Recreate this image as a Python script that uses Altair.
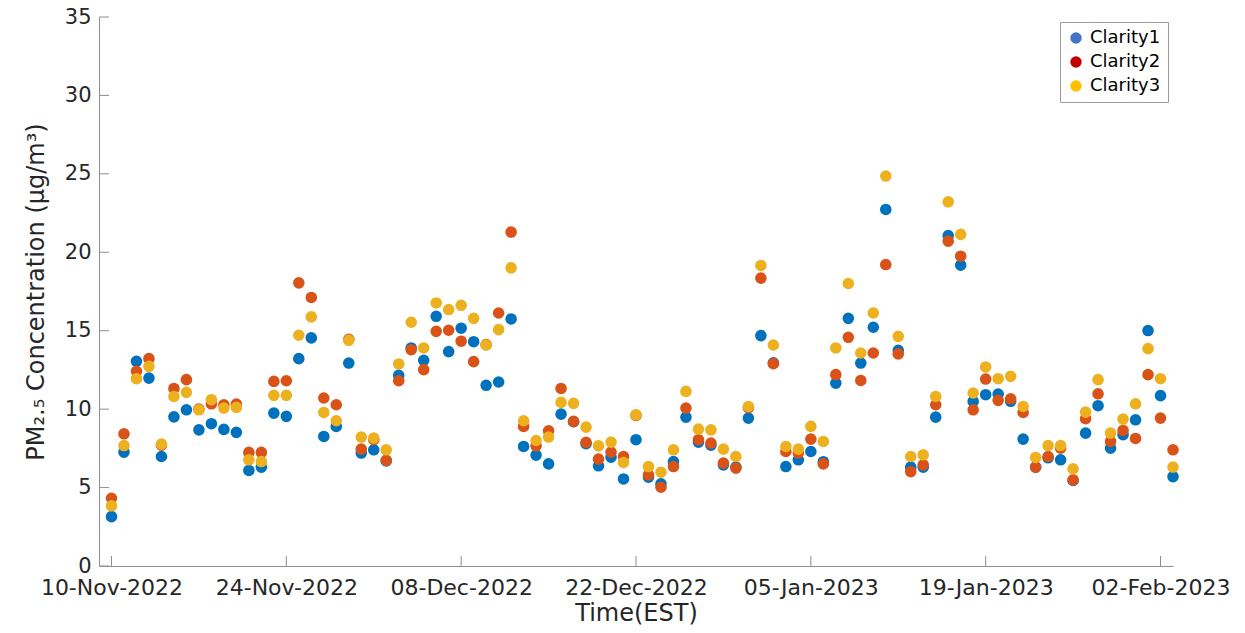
import altair as alt
import pandas as pd

# ---------------- data ----------------
start_date = "2022-11-10"
series_names = ["Clarity1", "Clarity2", "Clarity3"]

clarity1 = [3.15, 7.26, 13.05, 11.98, 6.98, 9.51, 9.96, 8.68, 9.07, 8.71,
            8.52, 6.09, 6.30, 9.75, 9.54, 13.22, 14.54, 8.26, 8.90, 12.94,
            7.20, 7.41, 6.70, 12.15, 13.90, 13.11, 15.92, 13.67, 15.16, 14.30,
            11.52, 11.73, 15.75, 7.62, 7.07, 6.51, 9.68, 9.20, 7.80, 6.39,
            6.94, 5.55, 8.05, 5.66, 5.24, 6.66, 9.49, 7.90, 7.70, 6.45,
            6.30, 9.43, 14.69, 12.95, 6.34, 6.77, 7.30, 6.65, 11.66, 15.79,
            12.94, 15.22, 22.73, 13.75, 6.30, 6.30, 9.49, 21.07, 19.18, 10.49,
            10.92, 10.96, 10.50, 8.09, 6.30, 6.90, 6.77, 5.45, 8.47, 10.22,
            7.51, 8.37, 9.32, 15.01, 10.86, 5.70]

clarity2 = [4.32, 8.43, 12.41, 13.22, 7.70, 11.32, 11.88, 10.00, 10.34, 10.28,
            10.32, 7.24, 7.24, 11.77, 11.81, 18.05, 17.12, 10.71, 10.28, 14.45,
            7.45, 8.05, 6.73, 11.81, 13.79, 12.52, 14.96, 15.03, 14.33, 13.03,
            14.11, 16.13, 21.29, 8.90, 7.66, 8.62, 11.32, 9.22, 7.88, 6.81,
            7.26, 6.98, 9.60, 5.81, 5.02, 6.34, 10.07, 8.05, 7.83, 6.56,
            6.24, 10.10, 18.35, 12.90, 7.30, 7.20, 8.09, 6.51, 12.20, 14.58,
            11.83, 13.58, 19.22, 13.52, 6.02, 6.45, 10.28, 20.71, 19.75, 9.96,
            11.92, 10.56, 10.66, 9.79, 6.30, 6.98, 7.51, 5.49, 9.39, 10.98,
            7.94, 8.64, 8.13, 12.20, 9.43, 7.41]

clarity3 = [3.83, 7.68, 11.94, 12.73, 7.77, 10.81, 11.07, 9.96, 10.60, 10.07,
            10.11, 6.77, 6.66, 10.88, 10.88, 14.71, 15.88, 9.79, 9.26, 14.39,
            8.22, 8.15, 7.41, 12.88, 15.54, 13.90, 16.77, 16.35, 16.62, 15.79,
            14.09, 15.07, 19.01, 9.26, 8.00, 8.22, 10.43, 10.37, 8.85, 7.66,
            7.90, 6.60, 9.64, 6.34, 5.98, 7.41, 11.13, 8.73, 8.68, 7.45,
            6.98, 10.17, 19.16, 14.09, 7.62, 7.45, 8.90, 7.94, 13.90, 18.01,
            13.58, 16.13, 24.86, 14.64, 6.98, 7.09, 10.81, 23.22, 21.14, 11.03,
            12.69, 11.94, 12.09, 10.17, 6.92, 7.68, 7.68, 6.19, 9.81, 11.88,
            8.47, 9.37, 10.34, 13.86, 11.94, 6.30]

point_colors = ["#0072BD", "#D95319", "#EDB120"]
legend_colors = ["#4472C4", "#C00000", "#FFC000"]

x_tick_dates = ["2022-11-10", "2022-11-24", "2022-12-08", "2022-12-22",
                "2023-01-05", "2023-01-19", "2023-02-02"]
x_domain = ["2022-11-09", "2023-02-03"]
y_ticks = [0, 5, 10, 15, 20, 25, 30, 35]
y_domain = [0, 35]

# ---------------- build table ----------------
dates = pd.date_range(start_date, periods=len(clarity1), freq="D").strftime("%Y-%m-%d")
rows = []
for name, vals in zip(series_names, [clarity1, clarity2, clarity3]):
    for d, v in zip(dates, vals):
        rows.append({"date": d, "pm": v, "series": name})
df = pd.DataFrame(rows)


def ms(s):
    return int(pd.Timestamp(s, tz="UTC").timestamp() * 1000)


W, H = 1074, 549
AXIS_COLOR = "#8f8f8f"
TEXT_COLOR = "#262626"
FONT = "DejaVu Sans"

x_enc = alt.X(
    "date:T",
    scale=alt.Scale(type="utc", domain=[ms(x_domain[0]), ms(x_domain[1])]),
    axis=alt.Axis(
        values=[ms(t) for t in x_tick_dates],
        format="%d-%b-%Y",
        title="Time(EST)",
        labelPadding=11,
        labelFontSize=22,
        titlePadding=3,
    ),
)
y_enc = alt.Y(
    "pm:Q",
    scale=alt.Scale(domain=y_domain, nice=False, zero=True),
    axis=alt.Axis(
        values=y_ticks,
        title="PM₂.₅ Concentration (µg/m³)",
        labelPadding=8,
        labelFontSize=21,
        titlePadding=16,
    ),
)

legend_layer = alt.Chart(df).mark_circle(size=135, opacity=0).encode(
    x=x_enc,
    y=y_enc,
    fill=alt.Fill(
        "series:N",
        scale=alt.Scale(domain=series_names, range=legend_colors),
        legend=alt.Legend(
            title=None,
            orient="top-right",
            offset=5,
            symbolType="circle",
            symbolSize=130,
            symbolOpacity=1,
            symbolStrokeWidth=0,
            labelFont=FONT,
            labelFontSize=18,
            labelColor="#000000",
            labelOffset=5,
            rowPadding=6,
            padding=7,
            strokeColor="#9a9a9a",
            fillColor="#ffffff",
            cornerRadius=0,
        ),
    ),
)

points = alt.Chart(df).mark_circle(size=135, opacity=1).encode(
    x=x_enc,
    y=y_enc,
    color=alt.Color(
        "series:N",
        scale=alt.Scale(domain=series_names, range=point_colors),
        legend=None,
    ),
)

xt_df = pd.DataFrame({"date": x_tick_dates})
xticks = alt.Chart(xt_df).mark_rule(color=AXIS_COLOR, strokeWidth=1).encode(
    x=x_enc, y=alt.value(H), y2=alt.value(H - 10)
)
yt_df = pd.DataFrame({"pm": y_ticks})
yticks = alt.Chart(yt_df).mark_rule(color=AXIS_COLOR, strokeWidth=1).encode(
    y=y_enc, x=alt.value(0), x2=alt.value(10)
)

chart = (
    alt.layer(legend_layer, points, xticks, yticks)
    .properties(
        width=W,
        height=H,
        padding={"left": 91, "top": 9, "right": 60, "bottom": 62},
        autosize=alt.AutoSizeParams(type="none"),
        background="#ffffff",
    )
    .configure_view(stroke=None)
    .configure_axis(
        grid=False,
        domainColor=AXIS_COLOR,
        domainWidth=1,
        tickSize=0,
        labelFont=FONT,
        labelColor=TEXT_COLOR,
        titleFont=FONT,
        titleFontSize=24,
        titleFontWeight="normal",
        titleColor=TEXT_COLOR,
    )
)

chart.save("out.html", embed_options={"renderer": "svg", "actions": False})
